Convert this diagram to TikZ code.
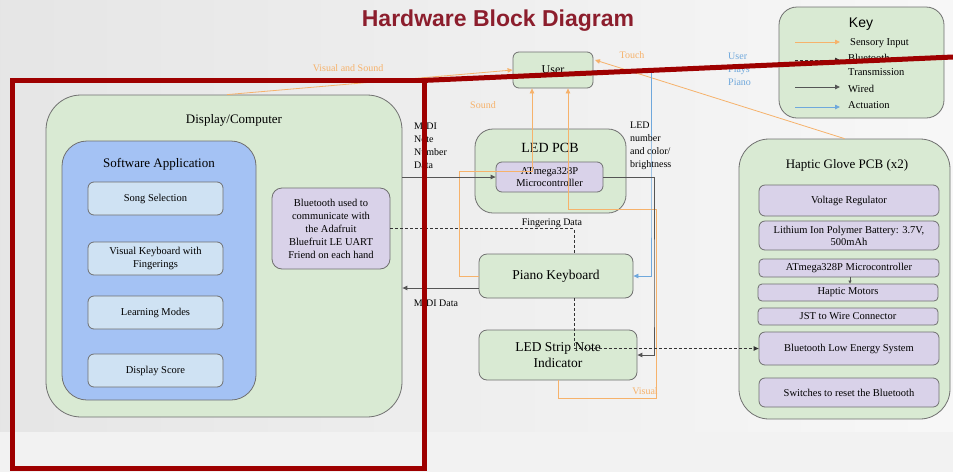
\documentclass[tikz,border=0pt]{standalone}
\usepackage{fontspec}
\setmainfont{Liberation Serif}
\newfontfamily\sansfam{Liberation Sans}
\usetikzlibrary{arrows.meta}
\definecolor{gfill}{HTML}{D9EAD3}
\definecolor{pfill}{HTML}{D9D2E9}
\definecolor{lbfill}{HTML}{CFE2F3}
\definecolor{bfill}{HTML}{A4C2F4}
\definecolor{bordc}{HTML}{707070}
\definecolor{orangec}{HTML}{F6B26B}
\definecolor{bluec}{HTML}{6FA8DC}
\definecolor{wirec}{HTML}{555555}
\definecolor{titlec}{HTML}{8C1E2D}
\definecolor{redc}{HTML}{9E0000}
\newcommand\fsz[2]{\fontsize{#1}{#2}\selectfont}
\tikzset{
  box/.style={draw=bordc, line width=0.8pt, rounded corners=6pt, inner sep=0pt, align=center, font=\fsz{10.5}{12.5}},
  gbox/.style={box, fill=gfill},
  pbox/.style={box, fill=pfill},
  lbbox/.style={box, fill=lbfill},
  lbl/.style={inner sep=0pt, font=\fsz{10}{13}},
  sens/.style={draw=orangec, line width=0.8pt},
  wire/.style={draw=wirec, line width=0.9pt},
  act/.style={draw=bluec, line width=0.8pt},
  btl/.style={draw=black!80, dash pattern=on 3pt off 2pt, line width=0.8pt},
  >={Triangle[length=5pt,width=4.5pt]}
}
\begin{document}
\begin{tikzpicture}[x=1pt,y=-1pt]
\useasboundingbox (0,0) rectangle (953,472);
\shade[left color=black!10, right color=black!3] (0,0) rectangle (953,432);
\fill[black!5] (0,432) rectangle (953,472);

\node[font=\sansfam\bfseries\fsz{23}{26}, text=titlec, inner sep=0pt] (title) at (498,21) {Hardware Block Diagram};

% Display / Computer
\node[gbox, rounded corners=35pt, minimum width=356pt, minimum height=322pt] (disp) at (224,256) {};
\node[lbl, font=\fsz{13}{15}] (disptitle) at (234,120) {Display/Computer};
\node[box, fill=bfill, rounded corners=25pt, minimum width=194pt, minimum height=259pt] (sw) at (159,270.5) {};
\node[lbl, font=\fsz{13}{15}] (swtitle) at (159,164) {Software Application};
\node[lbbox, minimum width=135pt, minimum height=33pt] (song) at (155.5,198.5) {Song Selection};
\node[lbbox, minimum width=135pt, minimum height=33pt] (vk) at (155.5,258.5) {Visual Keyboard with\\Fingerings};
\node[lbbox, minimum width=135pt, minimum height=33pt] (lm) at (155.5,312.5) {Learning Modes};
\node[lbbox, minimum width=135pt, minimum height=33pt] (ds) at (155.5,370.5) {Display Score};
\node[pbox, rounded corners=10pt, minimum width=118pt, minimum height=81pt, font=\fsz{10.5}{13}] (bt) at (331,228.5) {Bluetooth used to\\communicate with\\the Adafruit\\Bluefruit LE UART\\Friend on each hand};

% User and middle boxes
\node[gbox, minimum width=80pt, minimum height=36pt, font=\fsz{12}{14}] (user) at (553,70) {User};
\node[gbox, rounded corners=18pt, minimum width=151pt, minimum height=84pt] (ledpcb) at (550.5,171) {};
\node[lbl, font=\fsz{14}{16}] (ledtitle) at (550,148) {LED PCB};
\node[pbox, minimum width=107pt, minimum height=30pt] (atm) at (549.5,177) {ATmega328P\\Microcontroller};
\node[gbox, rounded corners=8pt, minimum width=154pt, minimum height=44pt, font=\fsz{13.5}{16}] (piano) at (556,276) {Piano Keyboard};
\node[gbox, rounded corners=8pt, minimum width=158pt, minimum height=50pt, font=\fsz{13.5}{16}] (strip) at (558,355) {LED Strip Note\\Indicator};

% Haptic glove
\node[gbox, rounded corners=30pt, minimum width=211pt, minimum height=280pt] (haptic) at (844.5,279) {};
\node[lbl, font=\fsz{13}{15}] (haptitle) at (847,165) {Haptic Glove PCB (x2)};
\node[pbox, minimum width=180pt, minimum height=31pt] (vr) at (849,200.5) {Voltage Regulator};
\node[pbox, minimum width=180pt, minimum height=29pt, font=\fsz{10.5}{12}] (bat) at (849,235.5) {Lithium Ion Polymer Battery: 3.7V,\\500mAh};
\node[pbox, rounded corners=4pt, minimum width=180pt, minimum height=18pt] (hatm) at (849,268) {ATmega328P Microcontroller};
\node[pbox, rounded corners=4pt, minimum width=180pt, minimum height=17pt] (hm) at (848,292.5) {Haptic Motors};
\node[pbox, rounded corners=4pt, minimum width=180pt, minimum height=17pt] (jst) at (848,316.5) {JST to Wire Connector};
\node[pbox, minimum width=180pt, minimum height=33pt] (ble) at (849,348.5) {Bluetooth Low Energy System};
\node[pbox, minimum width=180pt, minimum height=29pt] (sw2) at (849,392.5) {Switches to reset the Bluetooth};

% Key
\node[gbox, rounded corners=18pt, minimum width=165pt, minimum height=111pt] (key) at (861.5,62.5) {};
\node[inner sep=0pt, font=\sansfam\fsz{14}{16}] (keytitle) at (861,24) {Key};
\coordinate (ka1) at (795,42);  \coordinate (kb1) at (840,42);
\coordinate (ka2) at (795,60);  \coordinate (kb2) at (840,60);
\coordinate (ka3) at (795,87);  \coordinate (kb3) at (840,87);
\coordinate (ka4) at (795,107); \coordinate (kb4) at (840,107);
\draw[sens,->] (ka1) -- (kb1);
\draw[btl,->] (ka2) -- (kb2);
\draw[wire,->] (ka3) -- (kb3);
\draw[act,->] (ka4) -- (kb4);
\node[lbl, font=\fsz{10.5}{13}, anchor=west] (k1) at (850,43) {Sensory Input};
\node[lbl, font=\fsz{10.5}{13}, anchor=west] (k2) at (848,58) {Bluetooth};
\node[lbl, font=\fsz{10.5}{13}, anchor=west] (k2b) at (848,72) {Transmission};
\node[lbl, font=\fsz{10.5}{13}, anchor=west] (k3) at (848,89) {Wired};
\node[lbl, font=\fsz{10.5}{13}, anchor=west] (k4) at (848,105) {Actuation};

% Connectors
\coordinate (s1) at (532,171);
\coordinate (v1) at (656,398);
\coordinate (v2) at (568,209);
\coordinate (t1) at (595,60);
\coordinate (p1) at (651,200);
\coordinate (l1) at (654,300);
\coordinate (f1) at (574,0);
\coordinate (m1) at (556,288);
\coordinate (h1) at (850,0);

\draw[sens,->] ([xshift=3pt]disp.north) -- (user.west);
\draw[sens,->] (piano.west) -- ++(-19pt,0) |- (s1) -- (s1 |- user.south);
\draw[sens,->] (strip.south) |- (v1) |- (v2) -- (v2 |- user.south);
\draw[sens,->] (haptic.north) -- (t1);
\draw[act,->] (user.east) -| (p1) |- (piano.east);
\draw[wire,->] (disp.east |- atm.west) -- (atm.west);
\draw[wire,->] (atm.east) -| (l1) |- (strip.east);
\draw[btl] (bt.east) -| (f1 |- piano.north);
\draw[btl,->] (f1 |- piano.south) |- (ble.west);
\draw[wire,->] (piano.west |- m1) -- (disp.east |- m1);
\draw[wire,->,>={Triangle[length=3pt,width=3pt]}] (h1 |- hatm.south) -- (h1 |- hm.north);

% Connector labels
\node[lbl, text=orangec] (lvs) at (348,68) {Visual and Sound};
\node[lbl, text=orangec] (lsound) at (483,105) {Sound};
\node[lbl, text=orangec] (ltouch) at (632,55) {Touch};
\node[lbl, text=orangec] (lvisual) at (645,391) {Visual};
\node[lbl, text=bluec, align=left, anchor=north west] (lplay) at (728,53) {User\\Plays\\Piano};
\node[lbl, align=left, anchor=north west] (lmidi) at (414,123) {MIDI\\Note\\Number\\Data};
\node[lbl, align=left, anchor=north west] (lled) at (630,122) {LED\\number\\and color/\\brightness};
\node[lbl] (lfing) at (552,223) {Fingering Data};
\node[lbl] (lmd) at (436,303) {MIDI Data};

% Red overlay
\draw[redc, line width=5pt] (12.5,80.5) rectangle (424.5,468);
\draw[redc, line width=5pt] (422,80.5) -- (953,57);
\end{tikzpicture}
\end{document}
